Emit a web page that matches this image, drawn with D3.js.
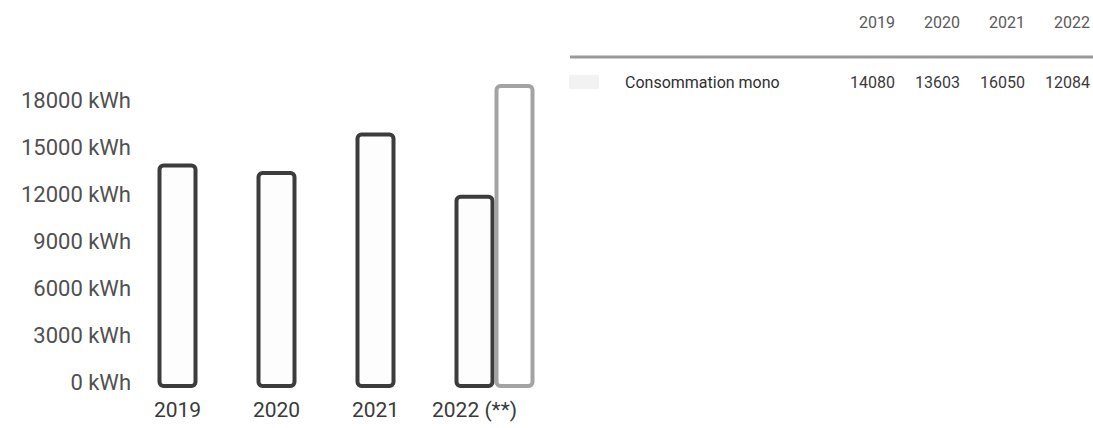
<!DOCTYPE html>
<html>
<head>
<meta charset="utf-8">
<script src="https://cdn.jsdelivr.net/npm/d3@7"></script>
<style>
  html, body { margin: 0; padding: 0; background: #fff; }
  svg { display: block; }
  text { font-family: Roboto, "Noto Sans", sans-serif; }
</style>
</head>
<body>
<svg id="chart" width="1093" height="428"></svg>
<script>
// Yearly consumption (kWh)
const years = ["2019", "2020", "2021", "2022 (**)"];
const consommation = [14080, 13603, 16050, 12084];
// Projected 2022 total, drawn as the lighter bar next to the 2022 one
const projection = [null, null, null, 19150];
const yTicks = [0, 3000, 6000, 9000, 12000, 15000, 18000];

// Table above the chart
const tableYears = ["2019", "2020", "2021", "2022"];
const tableSeries = "Consommation mono";

const svg = d3.select("#chart");

const x = d3.scaleBand().domain(years).range([128, 524]).paddingInner(0.6).paddingOuter(0.3);
const y = d3.scaleLinear().domain([0, 18000]).range([386, 104]);

const barW = 36;
const gap = 4;

// Y axis labels (no axis line)
const yAxis = d3.axisLeft(y).tickValues(yTicks).tickSize(0).tickPadding(0)
  .tickFormat(d => d + " kWh");
const gy = svg.append("g").attr("transform", "translate(131,-4)").call(yAxis);
gy.select(".domain").remove();
gy.selectAll("text")
  .attr("font-size", 22)
  .attr("font-family", "Roboto, sans-serif")
  .attr("fill", "#505050");

// X axis labels
const xAxis = d3.axisBottom(x).tickSize(0).tickPadding(0);
const gx = svg.append("g").attr("transform", "translate(0,402)").call(xAxis);
gx.select(".domain").remove();
gx.selectAll("text")
  .attr("font-size", 21)
  .attr("font-family", "Roboto, sans-serif")
  .attr("fill", "#3a3a3a");

const cx = d => x(d) + x.bandwidth() / 2;

// Main bars: outlined, rounded
svg.append("g").selectAll("rect")
  .data(years.map((c, i) => ({ c, v: consommation[i] })))
  .join("rect")
  .attr("x", d => cx(d.c) - barW / 2)
  .attr("y", d => y(d.v))
  .attr("width", barW)
  .attr("height", d => y(0) - y(d.v))
  .attr("rx", 4)
  .attr("fill", "#fdfdfd")
  .attr("stroke", "#3c3c3c")
  .attr("stroke-width", 4);

// Projection bar, placed to the right of its year's bar
svg.append("g").selectAll("rect")
  .data(years.map((c, i) => ({ c, v: projection[i] })).filter(d => d.v != null))
  .join("rect")
  .attr("x", d => cx(d.c) + barW / 2 + gap)
  .attr("y", d => y(d.v))
  .attr("width", barW)
  .attr("height", d => y(0) - y(d.v))
  .attr("rx", 4)
  .attr("fill", "#ffffff")
  .attr("stroke", "#a3a3a3")
  .attr("stroke-width", 4);

// Data table
const colRight = d3.scalePoint().domain(tableYears).range([895, 1090]);

svg.append("g").selectAll("text")
  .data(tableYears)
  .join("text")
  .attr("x", d => colRight(d))
  .attr("y", 22)
  .attr("dy", "0.35em")
  .attr("text-anchor", "end")
  .attr("font-size", 16)
  .attr("fill", "#5a5a5a")
  .text(d => d);

svg.append("line")
  .attr("x1", 570).attr("x2", 1093)
  .attr("y1", 57).attr("y2", 57)
  .attr("stroke", "#9a9a9a")
  .attr("stroke-width", 3);

// faint series swatch
svg.append("rect")
  .attr("x", 569).attr("y", 75)
  .attr("width", 30).attr("height", 14)
  .attr("fill", "#f2f2f2");

svg.append("text")
  .attr("x", 625).attr("y", 82)
  .attr("dy", "0.35em")
  .attr("font-size", 16)
  .attr("fill", "#2f2f2f")
  .text(tableSeries);

svg.append("g").selectAll("text")
  .data(tableYears.map((c, i) => ({ c, v: consommation[i] })))
  .join("text")
  .attr("x", d => colRight(d.c))
  .attr("y", 82)
  .attr("dy", "0.35em")
  .attr("text-anchor", "end")
  .attr("font-size", 16)
  .attr("fill", "#3a3a3a")
  .text(d => d.v);
</script>
</body>
</html>
